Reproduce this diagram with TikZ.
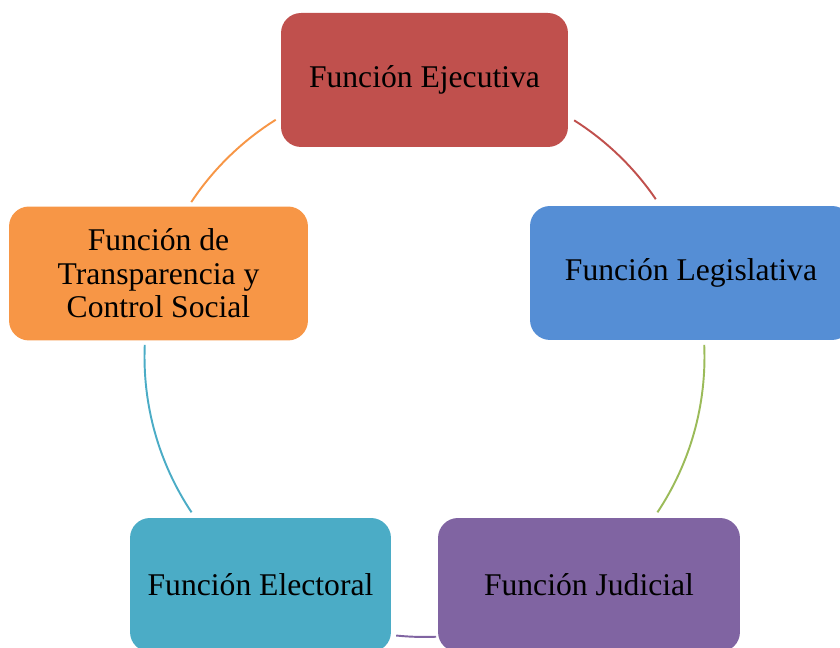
\documentclass[tikz,border=0pt]{standalone}
\usepackage{fontspec}
\setmainfont{Liberation Serif}
\definecolor{ejecutivacolor}{HTML}{C0504D}
\definecolor{legislativacolor}{HTML}{558ED5}
\definecolor{judicialcolor}{HTML}{8064A2}
\definecolor{electoralcolor}{HTML}{4BACC6}
\definecolor{transparenciacolor}{HTML}{F79646}
\definecolor{greenarccolor}{HTML}{9BBB59}
\def \cycleradius {280}
\def \funcionheight {2.68cm}
\tikzset{
  funcion/.style={rounded corners=0.4cm, minimum height=\funcionheight, inner sep=0pt,
    align=center, font=\fontsize{18}{19}\selectfont, text=black},
  cyclearc/.style={line width=1.1pt}
}

\begin{document}
\begin{tikzpicture}[x=0.02cm,y=0.02cm]
\useasboundingbox (0,0) rectangle (840,648);
\coordinate (c) at (424.5,291);
% Draw the arcs of the cycle
\foreach \a/\b/\col in {57.7/34.3/ejecutivacolor, 2.5/-33.7/greenarccolor,
  -87.6/-95.8/judicialcolor, -146.3/-182.5/electoralcolor, 146.4/122.1/transparenciacolor}
{
\draw[cyclearc,\col] (c) ++(\a:\cycleradius) arc[start angle=\a, end angle=\b, radius=\cycleradius];
}
% Draw the boxes
\node[funcion, fill=ejecutivacolor, minimum width=5.74cm] (ejecutiva) at (424.5,568) {Función Ejecutiva};
\node[funcion, fill=legislativacolor, minimum width=6.44cm] (legislativa) at (691,375) {Función Legislativa};
\node[funcion, fill=judicialcolor, minimum width=6.04cm] (judicial) at (589,63) {Función Judicial};
\node[funcion, fill=electoralcolor, minimum width=5.22cm] (electoral) at (260.5,63) {Función Electoral};
\node[funcion, fill=transparenciacolor, minimum width=5.98cm] (transparencia) at (158.5,374.5) {Función de\\Transparencia y\\Control Social};
\end{tikzpicture}
\end{document}
